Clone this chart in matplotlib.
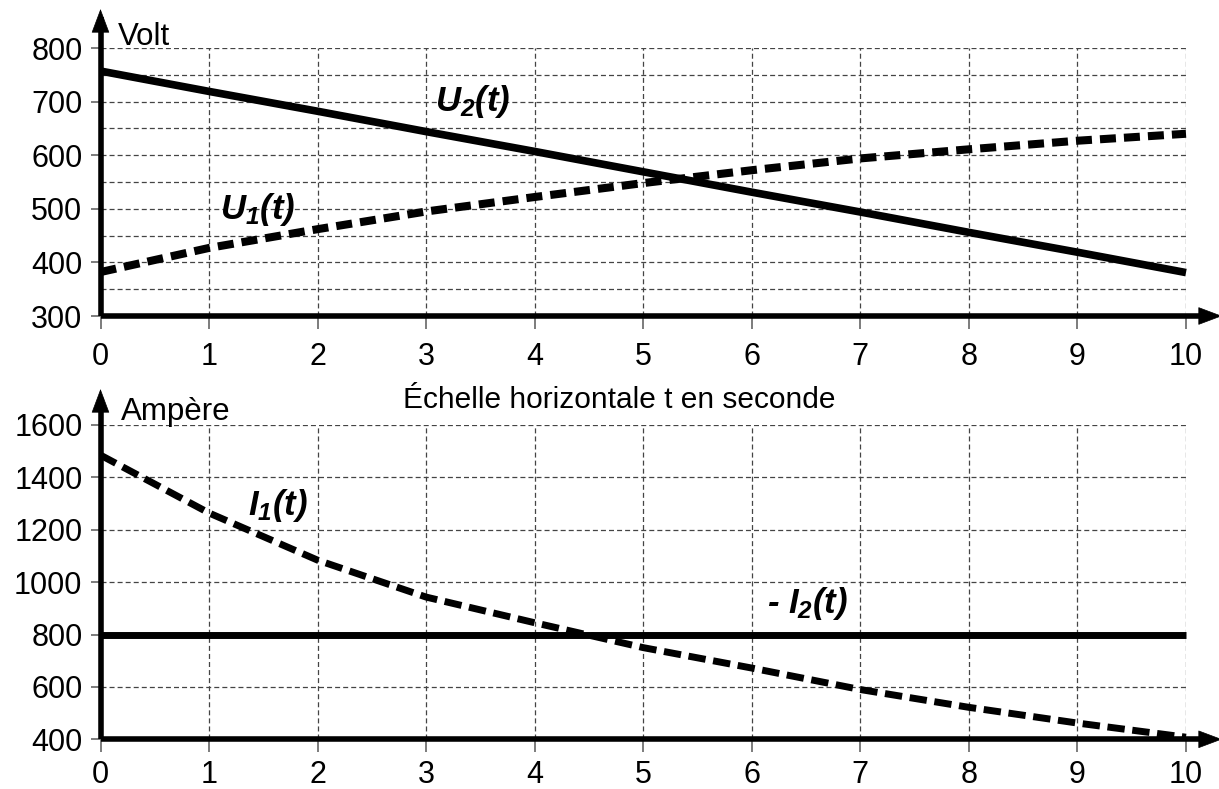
import matplotlib
matplotlib.use("Agg")
import matplotlib.pyplot as plt
from matplotlib.ticker import MultipleLocator

plt.rcParams['font.family'] = ['Liberation Sans', 'DejaVu Sans']
plt.rcParams['mathtext.fontset'] = 'custom'
plt.rcParams['mathtext.it'] = 'Liberation Sans:italic:bold'
plt.rcParams['mathtext.rm'] = 'Liberation Sans:italic:bold'
plt.rcParams['mathtext.bf'] = 'Liberation Sans:italic:bold'
plt.rcParams['lines.scale_dashes'] = False

# ---- data ----
t = [0, 1, 2, 3, 4, 5, 6, 7, 8, 9, 10]
U1 = [382, 427, 462, 495, 522, 548, 572, 594, 611, 627, 640]
U2 = [757, 719, 682, 644, 607, 569, 531, 494, 456, 419, 381]
I1 = [1485, 1264, 1084, 943, 845, 750, 672, 590, 522, 462, 408]
t_I2 = [0, 10]
I2 = [800, 800]

xticks = list(range(0, 11))
yticks_top = [300, 400, 500, 600, 700, 800]
yticks_bot = [400, 600, 800, 1000, 1200, 1400, 1600]

W, H = 1219, 789
fig = plt.figure(figsize=(W / 100, H / 100), dpi=100)

left = 100.5 / W
width = 1085.5 / W
ax1 = fig.add_axes([left, 1 - 316 / H, width, 268 / H])
ax2 = fig.add_axes([left, 1 - 739.3 / H, width, 314.3 / H])

grid_kw = dict(color='#444444', linewidth=0.9, linestyle=(0, (3.6, 2.2)))
TICK_FS = 22


def style_axes(ax, ylim, yticks, ygrid_step, xpad):
    ax.set_xlim(0, 10)
    ax.set_ylim(*ylim)
    ax.set_xticks(xticks)
    ax.set_yticks(yticks)
    ax.yaxis.set_minor_locator(MultipleLocator(ygrid_step))
    ax.grid(True, which='major', **grid_kw)
    ax.grid(True, which='minor', axis='y', **grid_kw)
    for s in ax.spines.values():
        s.set_visible(False)
    ax.tick_params(axis='x', which='major', direction='out', length=9,
                   width=1.2, color='#666666', labelsize=TICK_FS, pad=xpad)
    ax.tick_params(axis='y', which='major', direction='out', length=7,
                   width=1.2, color='#666666', labelsize=TICK_FS, pad=6)
    ax.tick_params(axis='y', which='minor', length=0)
    ax.set_axisbelow(True)


style_axes(ax1, (300, 800), yticks_top, 50, 9.5)
style_axes(ax2, (400, 1600), yticks_bot, 200, 6)


def draw_axes_arrows(ax, ytip):
    xtip = (1222 - 100.5) / 1085.5
    ax.plot([0, xtip - 0.01], [0, 0], transform=ax.transAxes, color='black',
            lw=4, clip_on=False, solid_capstyle='butt', zorder=6)
    ax.plot([0, 0], [0, ytip - 0.03], transform=ax.transAxes, color='black',
            lw=4, clip_on=False, solid_capstyle='butt', zorder=6)
    ap = dict(arrowstyle='-|>,head_length=1.6,head_width=0.6', lw=0.5,
              color='black', shrinkA=0, shrinkB=0, mutation_scale=10)
    ax.annotate('', xy=(xtip, 0), xytext=(xtip - 0.05, 0),
                xycoords='axes fraction', textcoords='axes fraction',
                arrowprops=ap, annotation_clip=False, zorder=7)
    ax.annotate('', xy=(0, ytip), xytext=(0, ytip - 0.12),
                xycoords='axes fraction', textcoords='axes fraction',
                arrowprops=ap, annotation_clip=False, zorder=7)


draw_axes_arrows(ax1, (316 - 9) / 268)
draw_axes_arrows(ax2, (739.3 - 389) / 314.3)

# ---- curves ----
ax1.plot(t, U2, color='black', lw=5.5, solid_capstyle='butt', zorder=4, clip_on=False)
ax1.plot(t, U1, color='black', lw=5.8, dashes=(11.5, 5.8), dash_capstyle='butt',
         zorder=4, clip_on=False)
ax2.plot(t_I2, I2, color='black', lw=5, solid_capstyle='butt', zorder=4, clip_on=False)
ax2.plot(t, I1, color='black', lw=5, dashes=(12.5, 5.5), dash_capstyle='butt',
         zorder=4, clip_on=False)

# ---- labels ----
LAB_FS = 25
lab_kw = dict(fontsize=LAB_FS, ha='left', va='baseline', color='black', zorder=8)
ax1.text(3.08, 683, r'$U_2(t)$', **lab_kw)
ax1.text(1.10, 481, r'$U_1(t)$', **lab_kw)
ax2.text(1.36, 1258, r'$I_1(t)$', **lab_kw)
ax2.text(6.14, 884, '-', fontsize=LAB_FS, fontweight='bold', style='italic',
         ha='left', va='baseline', zorder=8)
ax2.text(6.33, 884, r'$I_2(t)$', **lab_kw)

fig.text(118 / W, 1 - 45 / H, 'Volt', fontsize=22.5, ha='left', va='baseline')
fig.text(121 / W, 1 - 420 / H, 'Ampère', fontsize=22.5, ha='left', va='baseline')
fig.text(619 / W, 1 - 408 / H, 'Échelle horizontale t en seconde', fontsize=21.5,
         ha='center', va='baseline')

fig.savefig('out.png', dpi=100)
